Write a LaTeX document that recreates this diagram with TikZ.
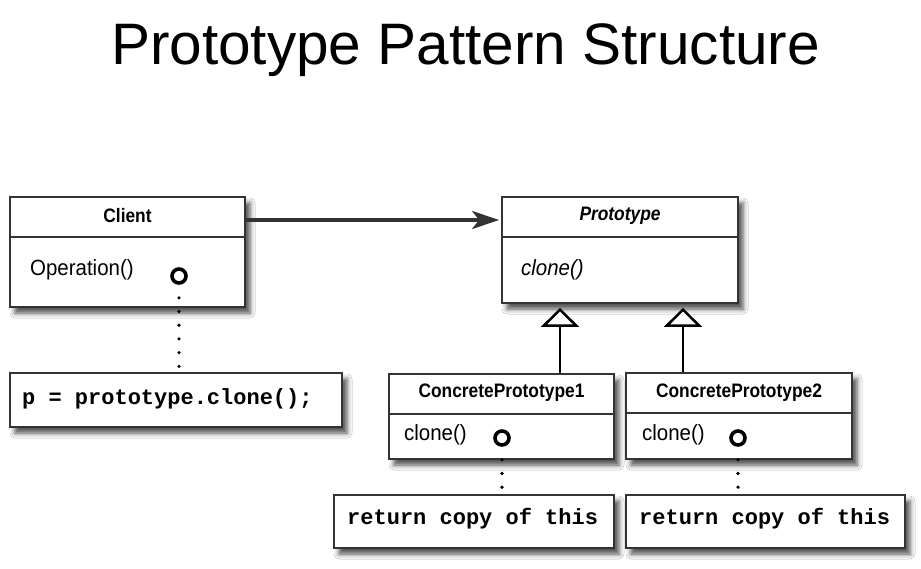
\documentclass[tikz,border=0pt]{standalone}
\usepackage{fontspec}
\setmainfont{Liberation Sans}
\setmonofont{Liberation Mono}
\newfontfamily\boxbold[FakeStretch=0.89]{Liberation Sans}
\newfontfamily\boxreg[FakeStretch=0.93]{Liberation Sans}
\usetikzlibrary{arrows.meta,calc,shadows.blur}
\definecolor{edge}{HTML}{333333}
\tikzset{
  classbox/.style={draw=edge, line width=1.8pt, fill=white, rectangle, inner sep=0pt,
    blur shadow={shadow xshift=5pt, shadow yshift=-6pt, shadow blur radius=5pt, shadow opacity=70}},
  divider/.style={draw=edge, line width=1.8pt},
  headtxt/.style={font=\boxbold\bfseries\fontsize{19.5}{22}\selectfont, inner sep=0pt},
  methtxt/.style={font=\boxreg\fontsize{22}{24}\selectfont, inner sep=0pt, anchor=west},
  codetxt/.style={font=\ttfamily\bfseries\fontsize{22}{24}\selectfont, inner sep=0pt, anchor=west},
  hole/.style={circle, draw=black, line width=3.6pt, minimum size=14pt, inner sep=0pt, fill=white},
  dotline/.style={line width=3.6pt, line cap=round, dash pattern=on 0pt off 13.7pt, shorten <=13pt},
  assoc/.style={draw=edge, line width=3.3pt, -{Stealth[length=27pt, width=18pt, inset=7pt]}, shorten >=2pt},
  inherit/.style={draw=black, line width=2.5pt, -{Triangle[fill=white, length=19pt, width=38pt]}, shorten >=4pt},
}
\begin{document}
\begin{tikzpicture}[x=1pt, y=-1pt]
\useasboundingbox (0,0) rectangle (921,568);
\fill[white] (0,0) rectangle (921,568);

% title
\node[anchor=base, inner sep=0pt, font=\fontsize{58.5}{60}\selectfont] (title) at (465.5,64) {Prototype Pattern Structure};

% Client
\node[classbox, minimum width=235pt, minimum height=110pt] (client) at (127.5,252) {};
\draw[divider] (client.west |- 0,237) -- (client.east |- 0,237);
\node[headtxt] (clientname) at (127.5,216) {Client};
\node[methtxt] (clientop) at (30,270) {Operation()};

% Prototype
\node[classbox, minimum width=236pt, minimum height=106pt] (proto) at (620,250) {};
\draw[divider] (proto.west |- 0,237) -- (proto.east |- 0,237);
\node[headtxt, font=\boxbold\bfseries\itshape\fontsize{19.5}{22}\selectfont] (protoname) at (620,216) {Prototype};
\node[methtxt, font=\boxreg\itshape\fontsize{22}{24}\selectfont] (protoclone) at (521,270) {clone()};

% ConcretePrototype1
\node[classbox, minimum width=225pt, minimum height=85pt] (cp1) at (501.5,416.5) {};
\draw[divider] (cp1.west |- 0,414) -- (cp1.east |- 0,414);
\node[headtxt] (cp1name) at (501.5,393) {ConcretePrototype1};
\node[methtxt] (cp1clone) at (404,435) {clone()};

% ConcretePrototype2
\node[classbox, minimum width=226pt, minimum height=86pt] (cp2) at (739,416) {};
\draw[divider] (cp2.west |- 0,413) -- (cp2.east |- 0,413);
\node[headtxt] (cp2name) at (739,393) {ConcretePrototype2};
\node[methtxt] (cp2clone) at (642,435) {clone()};

% note boxes
\node[classbox, minimum width=332pt, minimum height=54pt] (code) at (176,400) {};
\node[codetxt] (codetxt) at (22,399) {p = prototype.clone();};
\node[classbox, minimum width=280pt, minimum height=53pt] (ret1) at (474,521.5) {};
\node[codetxt] (ret1txt) at (347,519) {return copy of this};
\node[classbox, minimum width=279pt, minimum height=53pt] (ret2) at (765.5,521.5) {};
\node[codetxt] (ret2txt) at (639,519) {return copy of this};

% operation markers
\node[hole] (clienthole) at (179,276) {};
\node[hole] (cp1hole) at (502,438) {};
\node[hole] (cp2hole) at (738,438) {};

% connectors
\coordinate (i1) at ($(cp1.north)+(58.5,0)$);
\coordinate (i2) at ($(cp2.north)+(-56,0)$);
\draw[assoc] ($(client.east)+(0,-32)$) -- ($(proto.west)+(0,-30)$);
\draw[inherit] (i1) -- (i1 |- proto.south);
\draw[inherit] (i2) -- (i2 |- proto.south);
\draw[dotline] (clienthole.south) -- (clienthole.south |- code.north);
\draw[dotline] (cp1hole.south) -- (cp1hole.south |- ret1.north);
\draw[dotline] (cp2hole.south) -- (cp2hole.south |- ret2.north);
\end{tikzpicture}
\end{document}
